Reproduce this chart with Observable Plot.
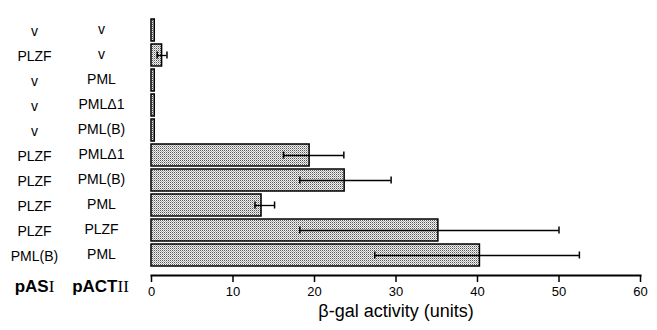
<!DOCTYPE html>
<html><head><meta charset="utf-8">
<script src="https://cdn.jsdelivr.net/npm/d3@7"></script>
<script src="https://cdn.jsdelivr.net/npm/@observablehq/plot@0.6"></script>
<style>body{margin:0;background:#fff;font-family:"Liberation Sans",Arial,sans-serif;}</style>
</head><body><div id="chart"></div>
<script>
const pASI = ["v","PLZF","v","v","v","PLZF","PLZF","PLZF","PLZF","PML(B)"];
const pACTII = ["v","v","PML","PMLΔ1","PML(B)","PMLΔ1","PML(B)","PML","PLZF","PML"];
const activity = [0.4,1.3,0.4,0.4,0.4,19.4,23.7,13.5,35.2,40.3];
const errLow = [null,0.7,null,null,null,16.2,18.2,12.7,18.2,27.4];
const errHigh = [null,1.9,null,null,null,23.6,29.4,15.1,50,52.5];
const xTicks = [0,10,20,30,40,50,60];

const rows = pASI.map((a,i)=>({row:i, a, b:pACTII[i], v:activity[i], lo:errLow[i], hi:errHigh[i]}));
const errs = rows.filter(d=>d.lo!=null);

const chart = Plot.plot({
  width:657, height:330,
  marginLeft:151, marginRight:17, marginTop:10, marginBottom:55,
  style:{fontFamily:'"Liberation Sans",Arial,sans-serif', color:"#000", background:"#fff"},
  x:{domain:[0,60], ticks:xTicks},
  y:{domain:d3.range(10), range:[10.9,273.3], padding:0.12, axis:null},
  marks:[
    Plot.barX(rows,{y:"row", x:"v", fill:"url(#stipple)", stroke:"#000", strokeWidth:1.5}),
    Plot.ruleY(errs,{y:"row", x1:"lo", x2:"hi", stroke:"#000", strokeWidth:1.3}),
    Plot.tickX(errs,{y:"row", x:"lo", stroke:"#000", strokeWidth:1.5, insetTop:7.5, insetBottom:7.5}),
    Plot.tickX(errs,{y:"row", x:"hi", stroke:"#000", strokeWidth:1.5, insetTop:7.5, insetBottom:7.5}),
    Plot.axisX({ticks:xTicks, tickSize:7, tickPadding:4, fontSize:13, label:null, strokeWidth:1.5}),
    Plot.frame({anchor:"bottom", strokeWidth:2}),
    Plot.text(rows,{y:"row", text:"a", frameAnchor:"left", dx:-117, dy:1.5, fontSize:14, textAnchor:"middle"}),
    Plot.text(rows,{y:"row", text:"b", frameAnchor:"left", dx:-50, dy:-1, fontSize:14, textAnchor:"middle"}),
    Plot.text(["pASI"],{frameAnchor:"bottom-left", dx:-117, dy:16, fontSize:17, fontWeight:"bold", textAnchor:"middle", className:"hdr"}),
    Plot.text(["pACTII"],{frameAnchor:"bottom-left", dx:-51, dy:16, fontSize:17, fontWeight:"bold", textAnchor:"middle", className:"hdr"}),
    Plot.text(["β-gal activity (units)"],{frameAnchor:"bottom", dx:0, dy:41, fontSize:18})
  ]
});

const svg = d3.select(chart);
const defs = svg.insert("defs",":first-child");
const pat = defs.append("pattern").attr("id","stipple").attr("patternUnits","userSpaceOnUse").attr("width",2).attr("height",2);
pat.append("rect").attr("width",2).attr("height",2).attr("fill","#f2f2f2");
pat.append("rect").attr("x",0).attr("y",0).attr("width",1).attr("height",1).attr("fill","#555");
pat.append("rect").attr("x",1).attr("y",1).attr("width",1).attr("height",1).attr("fill","#aaa");

svg.selectAll("g.hdr text").each(function(){
  const t = d3.select(this); const s = t.text();
  const m = s.match(/^(p[A-Z]+?)(I+)$/);
  if(!m) return;
  t.text(null);
  t.append("tspan").text(m[1]);
  t.append("tspan").text(m[2]).attr("font-family","'Liberation Serif',serif").attr("font-weight","normal").attr("font-size",17);
});
document.getElementById("chart").appendChild(chart);
</script></body></html>
